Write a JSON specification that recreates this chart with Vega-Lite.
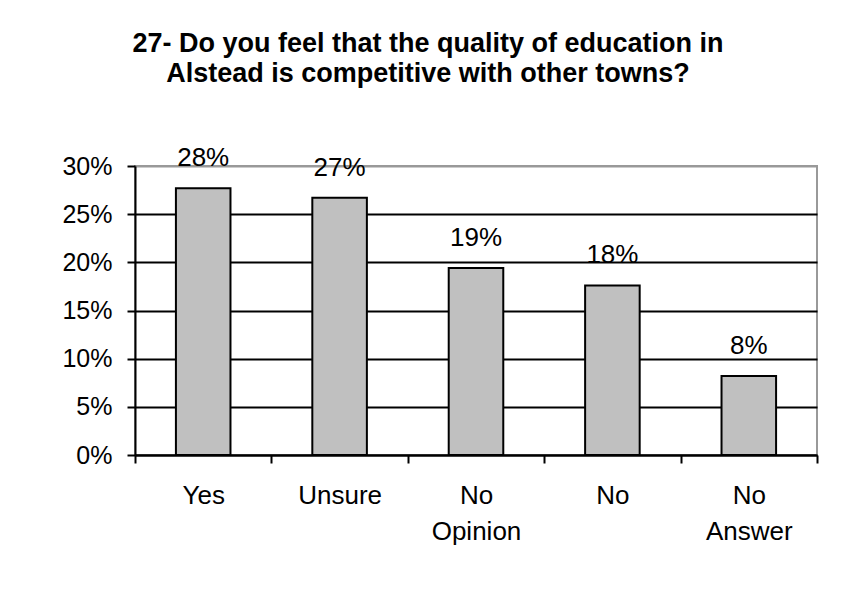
{
  "$schema": "https://vega.github.io/schema/vega-lite/v6.json",
  "width": 682,
  "height": 289,
  "autosize": {"type": "none"},
  "padding": {"left": 135, "top": 166, "right": 39, "bottom": 136},
  "background": "white",
  "title": {
    "text": ["27- Do you feel that the quality of education in", "Alstead is competitive with other towns?"],
    "font": "Liberation Sans",
    "fontSize": 27,
    "fontWeight": "bold",
    "color": "black",
    "lineHeight": 30,
    "anchor": "middle",
    "frame": "group",
    "dx": -48,
    "offset": 36,
    "baseline": "alphabetic"
  },
  "config": {
    "view": {"stroke": "#999999", "strokeWidth": 2},
    "font": "Liberation Sans"
  },
  "data": {
    "values": [
      {"answer": "Yes", "pct": 0.277},
      {"answer": "Unsure", "pct": 0.267},
      {"answer": "No Opinion", "pct": 0.194},
      {"answer": "No", "pct": 0.176},
      {"answer": "No Answer", "pct": 0.082}
    ]
  },
  "encoding": {
    "x": {
      "field": "answer",
      "type": "nominal",
      "sort": null,
      "title": null,
      "scale": {"paddingInner": 0, "paddingOuter": 0},
      "axis": {
        "tickBand": "extent",
        "labelAngle": 0,
        "labelExpr": "split(datum.label, ' ')",
        "labelFont": "Liberation Sans",
        "labelFontSize": 26,
        "labelColor": "black",
        "labelBaseline": "alphabetic",
        "labelLineHeight": 36,
        "labelPadding": 40,
        "tickSize": 8,
        "tickWidth": 2,
        "tickColor": "black",
        "domainColor": "black",
        "domainWidth": 2,
        "grid": false
      }
    },
    "y": {
      "field": "pct",
      "type": "quantitative",
      "title": null,
      "scale": {"domain": [0, 0.3], "nice": false},
      "axis": {
        "values": [0, 0.05, 0.1, 0.15, 0.2, 0.25, 0.3],
        "format": ".0%",
        "labelFont": "Liberation Sans",
        "labelFontSize": 25,
        "labelColor": "black",
        "labelPadding": 15,
        "tickSize": 8,
        "tickWidth": 2,
        "tickColor": "black",
        "domainColor": "black",
        "domainWidth": 2,
        "grid": true,
        "gridWidth": 2,
        "gridColor": {"condition": {"test": "datum.value >= 0.3", "value": "#999999"}, "value": "black"}
      }
    }
  },
  "layer": [
    {
      "mark": {"type": "bar", "width": {"band": 0.4}, "fill": "#C0C0C0", "stroke": "black", "strokeWidth": 2}
    },
    {
      "mark": {"type": "text", "baseline": "alphabetic", "dy": -22, "fontSize": 26, "font": "Liberation Sans", "color": "black"},
      "encoding": {
        "text": {"field": "pct", "type": "quantitative", "format": ".0%"}
      }
    }
  ]
}
